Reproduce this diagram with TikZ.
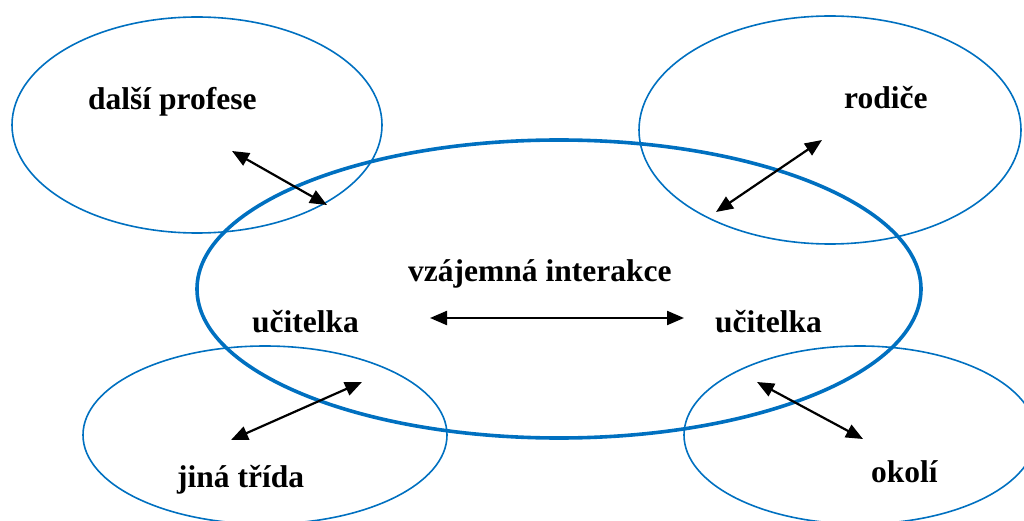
\documentclass[tikz,border=0pt]{standalone}
\usepackage{fontspec}
\setmainfont{Liberation Serif}
\usetikzlibrary{arrows.meta}
\definecolor{ringblue}{HTML}{0070C0}
\begin{document}
\begin{tikzpicture}[x=1pt,y=-1pt,
  ring/.style={draw=ringblue,line width=1.6pt},
  core/.style={draw=ringblue,line width=3.6pt},
  link/.style={draw=black,line width=2.2pt,{Triangle[length=17pt,width=14pt]}-{Triangle[length=17pt,width=14pt]}},
  lbl/.style={inner sep=0pt,anchor=base west,font=\bfseries\fontsize{31.5}{36}\selectfont}]
\useasboundingbox (0,0) rectangle (1024,521);
\clip (0,0) rectangle (1024,521);

% surrounding groups
\draw[ring] (197,125) ellipse [x radius=185pt,y radius=108pt];
\draw[ring] (830,130) ellipse [x radius=191pt,y radius=114pt];
\draw[ring] (265,435) ellipse [x radius=182pt,y radius=89pt];
\draw[ring] (860,435) ellipse [x radius=176pt,y radius=89pt];
% central ring
\draw[core] (559,289) ellipse [x radius=362pt,y radius=149pt];

% labels
\node[lbl] (prof) at (88,110) {další profese};
\node[lbl] (rod) at (844,109) {rodiče};
\node[lbl] (vz) at (408,281) {vzájemná interakce};
\node[lbl] (ucl) at (252,332) {učitelka};
\node[lbl] (ucr) at (715,332) {učitelka};
\node[lbl] (jina) at (177,487) {jiná třída};
\node[lbl] (okoli) at (871,482) {okolí};

% arrow end points
\coordinate (p1) at (232,151);
\coordinate (p2) at (327,205);
\coordinate (r1) at (822,140);
\coordinate (r2) at (716,212);
\coordinate (j1) at (362,382);
\coordinate (j2) at (231,440);
\coordinate (o1) at (757,382);
\coordinate (o2) at (863,439);
\coordinate (h1) at (430,318);
\coordinate (h2) at (684,318);

\draw[link] (p1) -- (p2);
\draw[link] (r1) -- (r2);
\draw[link] (j1) -- (j2);
\draw[link] (o1) -- (o2);
\draw[link] (h1) -- (h2);
\end{tikzpicture}
\end{document}
